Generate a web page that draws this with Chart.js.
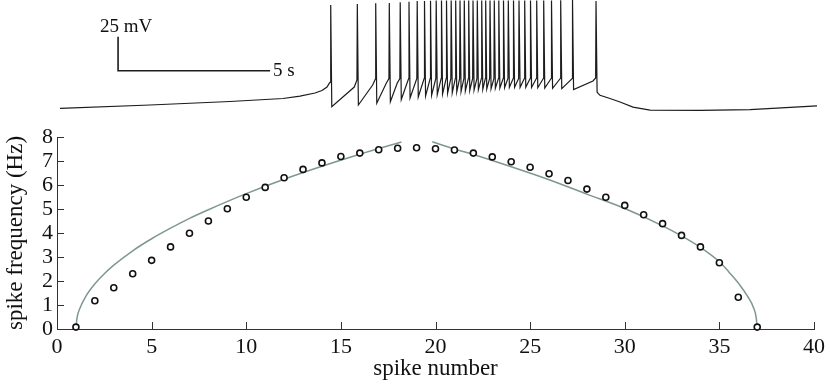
<!DOCTYPE html>
<html>
<head>
<meta charset="utf-8">
<script src="https://cdn.jsdelivr.net/npm/chart.js@4.4.1/dist/chart.umd.min.js"></script>
<style>
  html, body { margin: 0; padding: 0; background: #fff; }
  #wrap { position: relative; width: 830px; height: 386px; }
  #wrap canvas { position: absolute; left: 0; top: 0; }
</style>
</head>
<body>
<div id="wrap">
  <canvas id="freqChart" width="830" height="386"></canvas>
  <canvas id="traceChart" width="830" height="120"></canvas>
</div>
<script>
// --- bottom panel: spike frequency vs spike number ---
const spikeNumbers = [1, 2, 3, 4, 5, 6, 7, 8, 9, 10, 11, 12, 13, 14, 15, 16, 17, 18, 19,
  20, 21, 22, 23, 24, 25, 26, 27, 28, 29, 30, 31, 32, 33, 34, 35, 36, 37];
const spikeFreq = [0.08, 1.18, 1.72, 2.30, 2.86, 3.42, 3.99, 4.50, 5.01, 5.49, 5.90, 6.30,
  6.65, 6.92, 7.19, 7.33, 7.47, 7.53, 7.55, 7.51, 7.46, 7.33, 7.17, 6.97, 6.74, 6.47, 6.19,
  5.83, 5.49, 5.15, 4.76, 4.39, 3.90, 3.42, 2.76, 1.32, 0.08];

// grey fitted curves
const riseFitX = [1, 1.05, 1.2, 1.5, 2, 2.5, 3, 4, 5, 6, 7, 8, 10, 12, 14, 16, 18.2];
const riseFitY = [0, 0.42, 0.84, 1.33, 1.88, 2.30, 2.66, 3.26, 3.76, 4.20, 4.61, 4.97, 5.64, 6.24, 6.78, 7.28, 7.79];
const fallFitX = [19.83, 21, 22, 24, 26, 28, 30, 32, 33, 34, 35, 35.5, 36, 36.5, 36.8, 36.95, 37];
const fallFitY = [7.80, 7.50, 7.27, 6.76, 6.22, 5.62, 5.02, 4.30, 3.88, 3.40, 2.80, 2.38, 1.92, 1.35, 0.90, 0.45, 0];

const xTickValues = [0, 5, 10, 15, 20, 25, 30, 35, 40];
const yTickValues = [0, 1, 2, 3, 4, 5, 6, 7, 8];

// --- top panel: membrane potential (time in s, voltage in mV) ---
const restT = [0, 2.961, 5.592, 7.336, 7.895, 8.388, 8.618, 8.783, 8.865];
const restV = [-60.2, -57.8, -55.2, -53.0, -51.2, -49.0, -47.1, -44.6, -41.6];

const spikeTimes = [8.905, 9.780, 10.385, 10.832, 11.191, 11.480, 11.750, 11.990, 12.188,
  12.375, 12.549, 12.714, 12.868, 13.016, 13.158, 13.299, 13.444, 13.586, 13.727, 13.872,
  14.003, 14.145, 14.286, 14.434, 14.589, 14.747, 14.918, 15.099, 15.286, 15.477, 15.681,
  15.911, 16.168, 16.470, 16.859, 17.632];
const peakV = [15.7, 16.5, 17.0, 17.2, 17.7, 18.2, 18.7, 18.7, 18.9, 19.0, 19.0, 19.0,
  19.0, 19.0, 19.0, 19.0, 19.0, 19.0, 19.0, 19.0, 19.0, 19.0, 19.0, 19.0, 19.0, 19.0,
  19.0, 19.0, 19.0, 19.0, 19.0, 19.0, 19.0, 19.2, 19.4, 18.7];
const kneeV = [-40.9, -39.4, -38.7, -38.3, -38.3, -38.3, -38.3, -38.3, -38.3, -38.3, -38.3,
  -38.3, -38.3, -38.3, -38.3, -38.3, -38.3, -38.3, -38.3, -38.3, -38.3, -38.3, -38.3, -38.3,
  -38.3, -38.3, -38.3, -38.3, -38.3, -38.3, -38.3, -38.3, -38.3, -38.3, -38.3, -37.9];
const troughV = [-59.0, -57.8, -56.5, -55.4, -53.8, -52.6, -51.9, -51.2, -50.7, -50.2,
  -49.7, -49.2, -48.8, -48.2, -47.9, -47.5, -47.1, -46.8, -46.5, -46.3, -46.0, -45.8,
  -45.5, -45.3, -45.1, -44.9, -44.8, -44.8, -44.8, -44.9, -45.1, -45.3, -45.5, -45.8,
  -46.4, -48.2];
// slow ramp just before the widely spaced spikes (null = none)
const rampV = [null, -44.6, -43.1, -41.8, -41.8, null, null, null, null, null, null, null,
  null, null, null, null, null, null, null, null, null, null, null, null, null, null, null,
  null, null, null, null, null, null, null, null, -40.1];

const afterT = [17.70, 17.763, 18.092, 18.421, 18.849, 19.408, 21.053, 22.697, 24.901];
const afterV = [-49.3, -50.6, -53.0, -55.6, -59.3, -61.5, -61.7, -61.25, -58.5];

// scale bar: 25 mV / 5 s
const scaleBarT = [1.91, 1.91, 6.91];
const scaleBarV = [-7.6, -32.6, -32.6];

const SERIF = "'Liberation Serif', 'Times New Roman', serif";
const AXIS_COLOR = '#333';
const FIT_COLOR = '#7f9694';

function toPoints(xs, ys) {
    return xs.map((x, i) => ({ x: x, y: ys[i] }));
}

// trace: rest -> spikes (knee, peak, trough) -> decay
function buildTrace() {
    const pts = toPoints(restT, restV);
    spikeTimes.forEach((t, i) => {
        if (rampV[i] !== null) pts.push({ x: t - 0.1, y: rampV[i] });
        pts.push({ x: t - 0.012, y: kneeV[i] });
        pts.push({ x: t, y: peakV[i] });
        pts.push({ x: t + 0.035, y: troughV[i] });
    });
    return pts.concat(toPoints(afterT, afterV));
}

// tick marks pointing into the plot
const innerTicks = {
    id: 'innerTicks',
    afterDatasetsDraw(chart) {
        const { ctx, chartArea, scales } = chart;
        ctx.save();
        ctx.strokeStyle = AXIS_COLOR;
        ctx.lineWidth = 1;
        ctx.beginPath();
        xTickValues.forEach(v => {
            const px = Math.round(scales.x.getPixelForValue(v)) + 0.5;
            ctx.moveTo(px, chartArea.bottom);
            ctx.lineTo(px, chartArea.bottom - 7);
        });
        yTickValues.forEach(v => {
            const py = Math.round(scales.y.getPixelForValue(v)) + 0.5;
            ctx.moveTo(chartArea.left, py);
            ctx.lineTo(chartArea.left + 7, py);
        });
        ctx.stroke();
        ctx.restore();
    }
};

// labels of the scale bar
const scaleBarLabels = {
    id: 'scaleBarLabels',
    afterDatasetsDraw(chart) {
        const { ctx, scales } = chart;
        const x0 = scales.x.getPixelForValue(scaleBarT[0]);
        const yTop = scales.y.getPixelForValue(scaleBarV[0]);
        const x1 = scales.x.getPixelForValue(scaleBarT[2]);
        const yBar = scales.y.getPixelForValue(scaleBarV[2]);
        ctx.save();
        ctx.fillStyle = '#111';
        ctx.font = `19px ${SERIF}`;
        ctx.textBaseline = 'alphabetic';
        ctx.textAlign = 'left';
        ctx.fillText('25 mV', x0 - 18, yTop - 5);
        ctx.fillText('5 s', x1 + 3, yBar + 5);
        ctx.restore();
    }
};

new Chart(document.getElementById('freqChart'), {
    type: 'scatter',
    data: {
        datasets: [
            {
                data: toPoints(spikeNumbers, spikeFreq),
                pointStyle: 'circle',
                pointRadius: 3,
                borderWidth: 1.6,
                borderColor: '#111',
                backgroundColor: '#fff',
                clip: false,
                order: 0
            },
            {
                type: 'line',
                data: toPoints(riseFitX, riseFitY),
                borderColor: FIT_COLOR,
                borderWidth: 1.5,
                pointRadius: 0,
                fill: false,
                cubicInterpolationMode: 'monotone',
                clip: false,
                order: 1
            },
            {
                type: 'line',
                data: toPoints(fallFitX, fallFitY),
                borderColor: FIT_COLOR,
                borderWidth: 1.5,
                pointRadius: 0,
                fill: false,
                cubicInterpolationMode: 'monotone',
                clip: false,
                order: 1
            }
        ]
    },
    options: {
        responsive: false,
        animation: false,
        events: [],
        layout: { padding: { top: 137, right: 12, left: 0, bottom: 0 } },
        plugins: { legend: { display: false }, tooltip: { enabled: false } },
        scales: {
            x: {
                type: 'linear',
                min: 0,
                max: 40,
                afterBuildTicks: s => { s.ticks = xTickValues.map(v => ({ value: v })); },
                afterFit: s => { s.height = 57; },
                ticks: { autoSkip: false, padding: 5, color: '#111', maxRotation: 0, font: { family: SERIF, size: 22 } },
                grid: { display: false, drawTicks: false },
                border: { display: true, color: AXIS_COLOR, width: 1 },
                title: {
                    display: true,
                    text: 'spike number',
                    color: '#111',
                    font: { family: SERIF, size: 23 },
                    padding: { top: 0, bottom: 3 }
                }
            },
            y: {
                type: 'linear',
                min: 0,
                max: 8,
                afterBuildTicks: s => { s.ticks = yTickValues.map(v => ({ value: v })); },
                afterFit: s => { s.width = 57; },
                ticks: { autoSkip: false, padding: 4, color: '#111', font: { family: SERIF, size: 22 } },
                grid: { display: false, drawTicks: false },
                border: { display: true, color: AXIS_COLOR, width: 1 },
                title: {
                    display: true,
                    text: 'spike frequency (Hz)',
                    color: '#111',
                    font: { family: SERIF, size: 23 },
                    padding: { top: 2, bottom: 0 }
                }
            }
        }
    },
    plugins: [innerTicks]
});

new Chart(document.getElementById('traceChart'), {
    type: 'line',
    data: {
        datasets: [
            {
                data: buildTrace(),
                borderColor: '#1c1c1c',
                borderWidth: 1.2,
                pointRadius: 0,
                tension: 0,
                fill: false,
                clip: false
            },
            {
                data: toPoints(scaleBarT, scaleBarV),
                borderColor: '#1c1c1c',
                borderWidth: 1.6,
                pointRadius: 0,
                tension: 0,
                fill: false,
                clip: false
            }
        ]
    },
    options: {
        responsive: false,
        animation: false,
        events: [],
        layout: { padding: 0 },
        plugins: { legend: { display: false }, tooltip: { enabled: false } },
        scales: {
            x: { type: 'linear', display: false, min: -1.974, max: 25.329 },
            y: { type: 'linear', display: false, min: -68.82, max: 19.41 }
        }
    },
    plugins: [scaleBarLabels]
});
</script>
</body>
</html>
